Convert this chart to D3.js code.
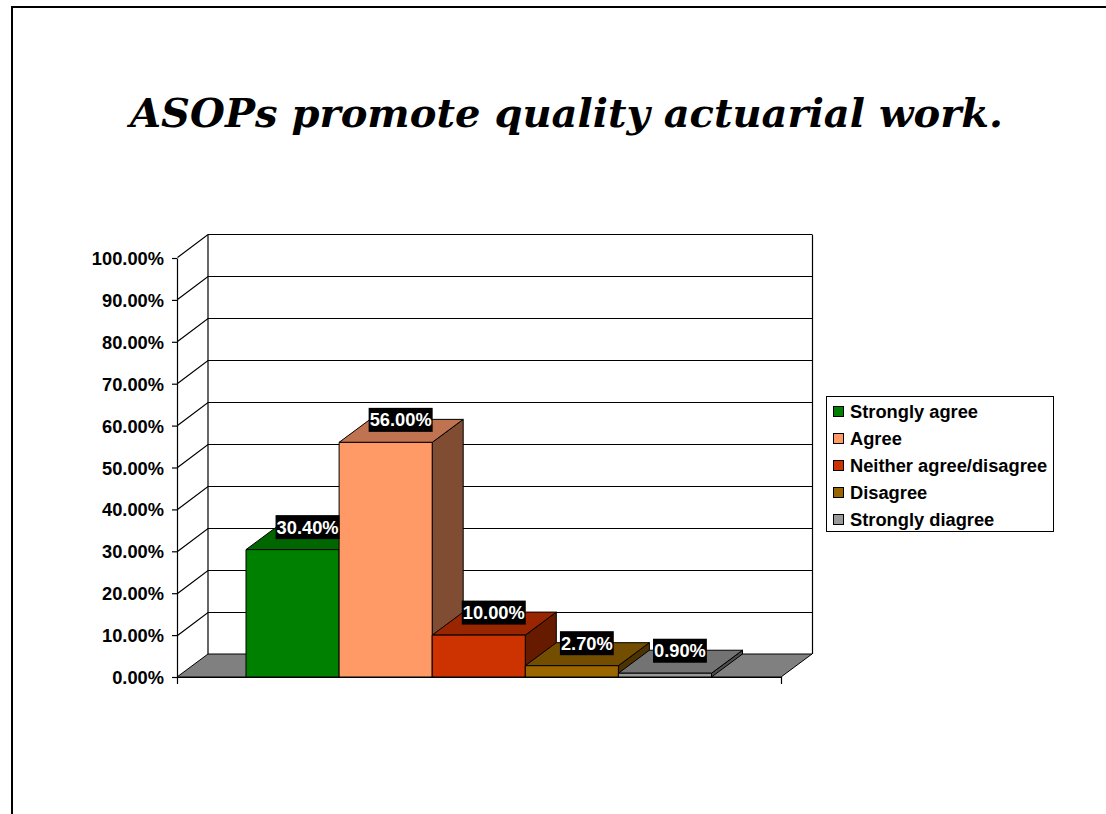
<!DOCTYPE html>
<html><head><meta charset="utf-8">
<style>html,body{margin:0;padding:0;background:#fff;overflow:hidden}svg{display:block}</style>
<script src="https://cdn.jsdelivr.net/npm/d3@7"></script>
</head><body>
<svg id="c" width="1106" height="814"></svg>
<script>
const titleText = "ASOPs promote quality actuarial work.";
const categories = ["Strongly agree","Agree","Neither agree/disagree","Disagree","Strongly diagree"];
const values = [30.4,56.0,10.0,2.7,0.9];
const valueLabels = ["30.40%","56.00%","10.00%","2.70%","0.90%"];
const tickValues = [0,10,20,30,40,50,60,70,80,90,100];
const frontColors = ["#008000","#FF9966","#CC3300","#996600","#999999"];
const topColors = ["#006600","#C07350","#992600","#734D00","#737373"];
const sideColors = ["#004D00","#804D33","#661A00","#4D3300","#4D4D4D"];

const svg = d3.select("#c");
const font = "'Liberation Sans',Arial,sans-serif";
const labelSize = 18.3;
const y = d3.scaleLinear().domain([0,100]).range([677,258]);
const x = d3.scaleBand().domain(categories).range([246,711.5]);
const dx = 31, dy = -23, left = 177, right = 781;

// slide frame
svg.append("path").attr("d","M12,814V7H1106").attr("fill","none").attr("stroke","#000").attr("stroke-width",2);

svg.append("text").attr("x",566.5).attr("y",126.5).attr("text-anchor","middle")
  .attr("font-family","'DejaVu Serif',serif").attr("font-weight","bold").attr("font-style","italic")
  .attr("font-size",40).attr("textLength",873).attr("lengthAdjust","spacingAndGlyphs").attr("fill","#000").text(titleText);

// floor
svg.append("path").attr("fill","#808080").attr("stroke","#000").attr("stroke-width",1)
  .attr("d",`M${left},${y(0)}L${left+dx},${y(0)+dy}H${right+dx}L${right},${y(0)}Z`);

// back wall + side wall gridlines
const grid = svg.append("g").attr("fill","none").attr("stroke","#000").attr("stroke-width",1.2);
tickValues.forEach(t=>{
  const p = Math.round(y(t)-0.6)+0.5;
  if(t>0) grid.append("path").attr("d",`M${left+0.5},${p}L${left+dx},${p+dy}H${right+dx+0.5}`);
});
grid.append("path").attr("d",`M${left+dx},${Math.round(y(0))+dy}V${Math.round(y(100))+dy}`);
grid.append("path").attr("d",`M${right+dx+0.5},${Math.round(y(100))+dy}V${Math.round(y(0))+dy}`);

// axes
const yAxis = d3.axisLeft(y).tickValues(tickValues).tickFormat(d=>d3.format(".2f")(d)+"%").tickSize(5).tickSizeOuter(0);
const ya = svg.append("g").attr("transform",`translate(${left},0)`).call(yAxis);
ya.selectAll("text").attr("font-family",font).attr("font-weight","bold").attr("font-size",labelSize).attr("fill","#000").attr("x",-13).attr("dy","0.36em");
ya.selectAll("line,path").attr("stroke","#000").attr("stroke-width",1.2);
const xBase = d3.scaleLinear().domain([left,right]).range([left,right]);
const xa = svg.append("g").attr("transform",`translate(0,${Math.round(y(0))})`)
  .call(d3.axisBottom(xBase).tickValues([left,right]).tickSize(7).tickSizeOuter(0).tickFormat(""));
xa.selectAll("line,path").attr("stroke","#000").attr("stroke-width",1.2);

// bars
const bars = svg.append("g").attr("stroke","#000").attr("stroke-width",1).attr("stroke-linejoin","round")
  .selectAll("g").data(categories).join("g");
const bx = (d)=>x(d), bw = x.bandwidth(), vof = (i)=>values[i];
bars.append("path").attr("fill",(d,i)=>sideColors[i]).attr("d",(d,i)=>{
  const X=bx(d)+bw,T=y(vof(i)),B=y(0);
  return `M${X},${T}L${X+dx},${T+dy}V${B+dy}L${X},${B}Z`;});
bars.append("path").attr("fill",(d,i)=>topColors[i]).attr("d",(d,i)=>{
  const X=bx(d),T=y(vof(i));
  return `M${X},${T}L${X+dx},${T+dy}H${X+bw+dx}L${X+bw},${T}Z`;});
bars.append("rect").attr("fill",(d,i)=>frontColors[i]).attr("x",d=>bx(d)).attr("y",(d,i)=>y(vof(i)))
  .attr("width",bw).attr("height",(d,i)=>y(0)-y(vof(i)));

// value labels
const labels = svg.append("g").selectAll("g").data(categories).join("g")
  .attr("transform",(d,i)=>`translate(${bx(d)+bw/2+15},${y(vof(i))-22.5})`);
labels.append("text").attr("text-anchor","middle").attr("dy","0.36em").attr("fill","#fff")
  .attr("font-family",font).attr("font-weight","bold").attr("font-size",labelSize).text((d,i)=>valueLabels[i]);
labels.each(function(){
  const g=d3.select(this),b=g.select("text").node().getBBox();
  g.insert("rect","text").attr("x",b.x-1).attr("y",-12).attr("width",b.width+2).attr("height",24).attr("fill","#000");
});

// legend
const lg = svg.append("g");
lg.append("rect").attr("x",826.5).attr("y",396.5).attr("width",227).attr("height",135).attr("fill","#fff").attr("stroke","#000");
const row = d3.scalePoint().domain(categories).range([411.5,519]);
categories.forEach((c,i)=>{
  lg.append("rect").attr("x",833.5).attr("y",Math.round(row(c)-5.5)+0.5).attr("width",10).attr("height",10)
    .attr("fill",frontColors[i]).attr("stroke","#000");
  lg.append("text").attr("x",850).attr("y",row(c)).attr("dy","0.36em").attr("font-family",font)
    .attr("font-weight","bold").attr("font-size",labelSize).attr("fill","#000").text(c);
});
</script>
</body></html>
